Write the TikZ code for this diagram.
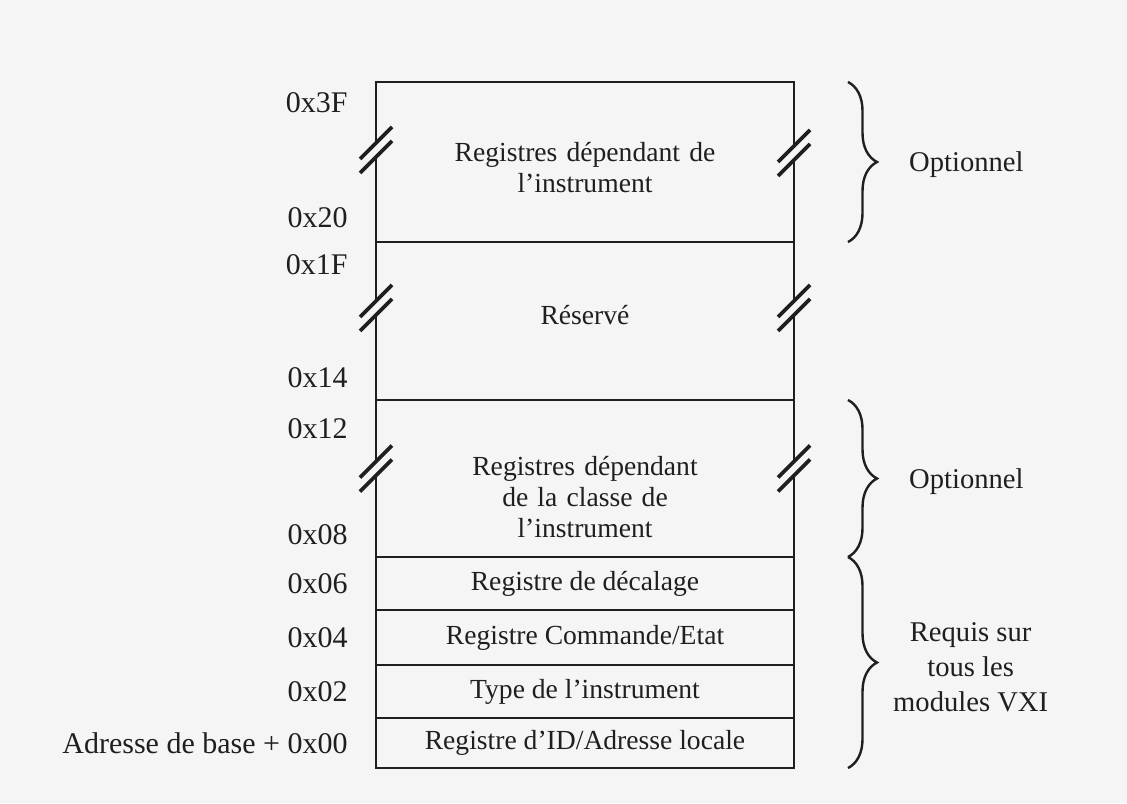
\documentclass[tikz,border=0pt]{standalone}
\usepackage{fontspec}
\setmainfont{Liberation Serif}
\usetikzlibrary{positioning,decorations.pathreplacing}
\colorlet{scanbg}{black!4}
\colorlet{ink}{black!88}
\tikzstyle{regcell}=[rectangle, draw=ink, line width=1.3pt, minimum width=209pt,
                    inner sep=0pt, outer sep=0pt, text=ink, text centered,
                    font=\fontsize{13.8pt}{15.5pt}\selectfont]
\tikzstyle{celltxt}=[inner sep=0pt, text=ink, text centered, text width=200pt,
                    font=\fontsize{13.8pt}{15.5pt}\selectfont]
\tikzstyle{addr}=[inner sep=0pt, text=ink, font=\fontsize{15pt}{17pt}\selectfont]
\tikzstyle{side}=[inner sep=0pt, text=ink, align=center,
                    font=\fontsize{14.3pt}{17.5pt}\selectfont]
\tikzstyle{pbrace}=[draw=ink, line width=1.2pt, decorate,
                    decoration={brace, amplitude=14.5pt}]
\tikzstyle{brk}=[draw=ink, line width=1.8pt]

\begin{document}
\begin{tikzpicture}[x=0.5pt, y=-0.5pt]
\fill[scanbg] (0,0) rectangle (1127,803);

\node (DEPI) [regcell, minimum height=80pt, anchor=north west] at (376,82) {};
\node (RES) [regcell, minimum height=79pt, below=0pt of DEPI] {};
\node (CLS) [regcell, minimum height=78.5pt, below=0pt of RES] {};
\node (DEC) [regcell, minimum height=26.5pt, below=0pt of CLS] {Registre de décalage};
\node (CMD) [regcell, minimum height=27.5pt, below=0pt of DEC] {Registre Commande/Etat};
\node (TYP) [regcell, minimum height=26.5pt, below=0pt of CMD] {Type de l'instrument};
\node (IDR) [regcell, minimum height=25pt, below=0pt of TYP] {Registre d'ID/Adresse locale};

\node (DEPIt) [celltxt] at ([yshift=-2.75pt]DEPI.center) {Registres dépendant de\\l'instrument};
\node (RESt) [celltxt] at ([yshift=3pt]RES.center) {Réservé};
\node (CLSt) [celltxt] at ([yshift=-9.5pt]CLS.center) {Registres dépendant\\de la classe de\\l'instrument};

% adresses
\node (a3F) [addr, left=14pt of DEPI.north west, yshift=-10.5pt] {0x3F};
\node (a20) [addr, left=14pt of DEPI.south west, yshift=12pt] {0x20};
\node (a1F) [addr, left=14pt of RES.north west, yshift=-11.5pt] {0x1F};
\node (a14) [addr, left=14pt of RES.south west, yshift=11pt] {0x14};
\node (a12) [addr, left=14pt of CLS.north west, yshift=-14.5pt] {0x12};
\node (a08) [addr, left=14pt of CLS.south west, yshift=11pt] {0x08};
\node (a06) [addr, left=14pt of DEC] {0x06};
\node (a04) [addr, left=14pt of CMD] {0x04};
\node (a02) [addr, left=14pt of TYP] {0x02};
\node (a00) [addr, left=14pt of IDR] {Adresse de base + 0x00};

% coupures
\coordinate (k1l) at ([yshift=6pt]DEPI.west);
\coordinate (k1r) at ([yshift=4.5pt]DEPI.east);
\coordinate (k2l) at ([yshift=6.5pt]RES.west);
\coordinate (k2r) at ([yshift=6.5pt]RES.east);
\coordinate (k3l) at ([yshift=5pt]CLS.west);
\coordinate (k3r) at ([yshift=5pt]CLS.east);
\foreach \k in {k1l,k1r,k2l,k2r,k3l,k3r}{
  \fill[scanbg] ([shift={(-2pt,-3.5pt)}]\k) rectangle ([shift={(2pt,3.5pt)}]\k);
  \draw[brk] ([shift={(-8pt,-4.5pt)}]\k) -- ([shift={(8pt,11.5pt)}]\k);
  \draw[brk] ([shift={(-8pt,-11.5pt)}]\k) -- ([shift={(8pt,4.5pt)}]\k);
}

% accolades
\coordinate (b1a) at ([xshift=27pt]DEPI.north east);
\coordinate (b1b) at ([xshift=27pt]DEPI.south east);
\coordinate (b2a) at ([xshift=27pt]CLS.north east);
\coordinate (b2b) at ([xshift=27pt]CLS.south east);
\coordinate (b3a) at ([xshift=27pt]DEC.north east);
\coordinate (b3b) at ([xshift=27pt]IDR.south east);
\draw[pbrace] (b1a) -- (b1b) node (opt1) [side, midway, right=30pt, yshift=-1.5pt] {Optionnel};
\draw[pbrace] (b2a) -- (b2b) node (opt2) [side, midway, right=30pt, yshift=-1.5pt] {Optionnel};
\draw[pbrace] (b3a) -- (b3b) node (req) [side, midway, right=22pt, yshift=-2.5pt] {Requis sur\\tous les\\modules VXI};

\end{tikzpicture}
\end{document}
